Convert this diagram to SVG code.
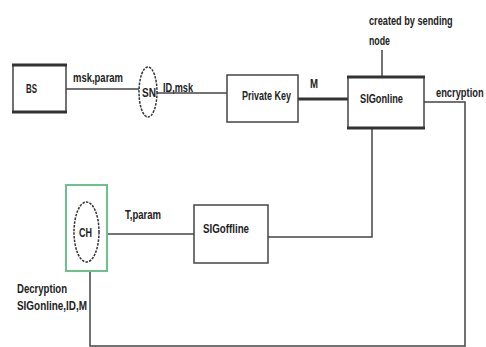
<svg xmlns="http://www.w3.org/2000/svg" width="486" height="347" viewBox="0 0 486 347">
<style>
.t{font-family:"Liberation Sans",Arial,sans-serif;font-size:13.5px;font-weight:bold;fill:#222}
.box{fill:#fff;stroke:#444;stroke-width:1.5}
.ln{stroke:#444;stroke-width:1.5;fill:none}
.thick{stroke:#333;stroke-width:3;fill:none}
.ell{fill:#fff;stroke:#333;stroke-width:1.5;stroke-dasharray:2.5 1.2}
</style>
<rect width="486" height="347" fill="#fff"/>
<g id="connectors">
<line class="ln" x1="66" y1="89" x2="139" y2="89"/>
<line class="ln" x1="157" y1="93" x2="227" y2="93"/>
<line class="thick" x1="298" y1="99" x2="348" y2="99"/>
<line class="ln" x1="382" y1="50" x2="382" y2="77"/>
<polyline class="ln" points="424,102 465,102 465,346 90,346 90,272"/>
<polyline class="ln" points="372,128 372,237 268,237"/>
<line class="ln" x1="107" y1="234" x2="194" y2="234"/>
</g>
<g id="BS">
<rect class="box" x="13" y="65" width="53" height="47"/>
<line class="thick" x1="12" y1="65" x2="67" y2="65"/>
<line class="thick" x1="12" y1="112" x2="67" y2="112"/>
<text class="t" x="26" y="93" textLength="11" lengthAdjust="spacingAndGlyphs">BS</text>
</g>
<g id="SN">
<ellipse class="ell" cx="148" cy="92" rx="9" ry="25"/>
<text class="t" x="142" y="97" textLength="14" lengthAdjust="spacingAndGlyphs">SN</text>
</g>
<g id="PrivateKey">
<rect class="box" x="227" y="75" width="71" height="47"/>
<text class="t" x="242" y="100" textLength="49" lengthAdjust="spacingAndGlyphs">Private Key</text>
</g>
<g id="SIGonline">
<rect class="box" x="348" y="77" width="76" height="51" stroke-width="2"/>
<line class="thick" x1="347" y1="77" x2="425" y2="77"/>
<line class="thick" x1="347" y1="128" x2="425" y2="128"/>
<text class="t" x="360" y="103" textLength="43" lengthAdjust="spacingAndGlyphs">SIGonline</text>
</g>
<g id="SIGoffline">
<rect class="box" x="194" y="205" width="74" height="58"/>
<text class="t" x="203" y="233" textLength="46" lengthAdjust="spacingAndGlyphs">SIGoffline</text>
</g>
<g id="CH">
<rect x="66" y="185" width="41" height="86" fill="#fff" stroke="#6cc28a" stroke-width="2"/>
<ellipse class="ell" cx="86.5" cy="232" rx="12.5" ry="30"/>
<text class="t" x="79" y="237" textLength="13" lengthAdjust="spacingAndGlyphs">CH</text>
</g>
<g id="labels">
<text class="t" x="73" y="82" textLength="50" lengthAdjust="spacingAndGlyphs">msk,param</text>
<text class="t" x="163" y="92" textLength="30" lengthAdjust="spacingAndGlyphs">ID,msk</text>
<text class="t" x="310" y="88" textLength="8" lengthAdjust="spacingAndGlyphs">M</text>
<text class="t" transform="translate(369,25) scale(0.68,1)" x="0" y="0" textLength="123" lengthAdjust="spacingAndGlyphs">created by sending</text>
<text class="t" x="369" y="45" textLength="21" lengthAdjust="spacingAndGlyphs">node</text>
<text class="t" transform="translate(436,97) scale(0.69,1)" x="0" y="0" textLength="69" lengthAdjust="spacingAndGlyphs">encryption</text>
<text class="t" x="125" y="219" textLength="36" lengthAdjust="spacingAndGlyphs">T,param</text>
<text class="t" x="17" y="293" textLength="50" lengthAdjust="spacingAndGlyphs">Decryption</text>
<text class="t" x="17" y="310" textLength="70" lengthAdjust="spacingAndGlyphs">SIGonline,ID,M</text>
</g>
</svg>
